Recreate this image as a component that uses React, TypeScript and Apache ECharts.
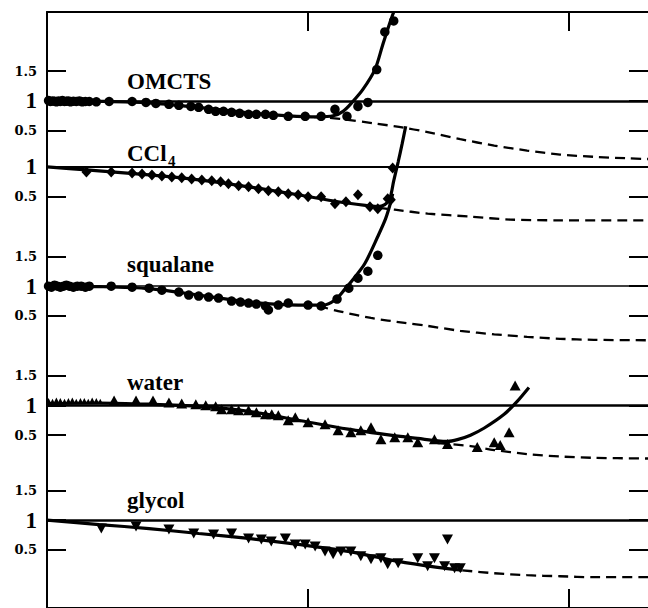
import React, { useEffect, useRef } from "react";
import * as echarts from "echarts";

// x axis: decades (log10) counted from the left frame edge
const X_MAX = 2.302;
const X_TICK_VALUES = [1, 2];

const PANEL_TITLES = ["OMCTS", "CCl", "squalane", "water", "glycol"];
const CCL4_SUBSCRIPT = "4";
const Y_TICK_VALUES = [
  [0.5, 1, 1.5],
  [0.5, 1],
  [0.5, 1, 1.5],
  [0.5, 1, 1.5],
  [0.5, 1, 1.5],
];

// ---- OMCTS ----
const omctsPtsX = [0.006, 0.013, 0.021, 0.029, 0.036, 0.044, 0.051, 0.059, 0.067, 0.074, 0.082, 0.09, 0.101, 0.112, 0.124, 0.135, 0.147, 0.162, 0.189, 0.238, 0.326, 0.379, 0.417, 0.467, 0.505, 0.551, 0.581, 0.619, 0.646, 0.676, 0.707, 0.738, 0.772, 0.802, 0.837, 0.867, 0.924, 0.989, 1.05, 1.103, 1.149, 1.191, 1.229, 1.263, 1.294, 1.328];
const omctsPtsY = [1.005, 0.99, 1.0, 0.995, 0.985, 1.0, 0.99, 1.005, 0.99, 0.995, 1.0, 0.985, 0.995, 0.99, 1.0, 0.985, 0.99, 0.99, 0.985, 0.99, 0.99, 0.975, 0.958, 0.942, 0.925, 0.908, 0.892, 0.858, 0.825, 0.825, 0.808, 0.792, 0.775, 0.775, 0.775, 0.758, 0.742, 0.742, 0.742, 0.858, 0.742, 0.908, 0.975, 1.525, 2.158, 2.342];
const omctsFitX = [0, 0.2, 0.391, 0.581, 0.772, 0.924, 1.039, 1.096, 1.134, 1.172, 1.21, 1.256, 1.286, 1.313, 1.328];
const omctsFitY = [1.0, 0.992, 0.967, 0.892, 0.8, 0.75, 0.733, 0.75, 0.825, 0.992, 1.192, 1.525, 1.942, 2.308, 2.492];
const omctsModelX = [0.962, 1.077, 1.153, 1.248, 1.37, 1.458, 1.583, 1.713, 1.839, 1.965, 2.094, 2.22, 2.302];
const omctsModelY = [0.737, 0.717, 0.683, 0.625, 0.55, 0.475, 0.358, 0.25, 0.167, 0.1, 0.062, 0.038, 0.025];

// ---- CCl4 ----
const cclPtsX = [0.151, 0.246, 0.326, 0.364, 0.402, 0.44, 0.478, 0.516, 0.554, 0.593, 0.631, 0.665, 0.695, 0.734, 0.772, 0.81, 0.848, 0.886, 0.924, 0.962, 1.0, 1.05, 1.103, 1.145, 1.191, 1.237, 1.267, 1.305, 1.317, 1.324];
const cclPtsY = [0.917, 0.917, 0.9, 0.883, 0.867, 0.85, 0.833, 0.817, 0.8, 0.783, 0.767, 0.75, 0.717, 0.683, 0.667, 0.633, 0.6, 0.583, 0.55, 0.533, 0.5, 0.5, 0.383, 0.417, 0.533, 0.333, 0.3, 0.467, 0.45, 0.983];
const cclFitX = [0, 0.151, 0.391, 0.581, 0.772, 0.962, 1.115, 1.229, 1.267, 1.294, 1.313, 1.328, 1.345, 1.36, 1.374];
const cclFitY = [1.0, 0.95, 0.867, 0.783, 0.667, 0.533, 0.417, 0.35, 0.333, 0.367, 0.467, 0.767, 1.083, 1.383, 1.683];
const cclModelX = [1.267, 1.332, 1.458, 1.622, 1.774, 1.965, 2.302];
const cclModelY = [0.317, 0.283, 0.217, 0.167, 0.117, 0.105, 0.105];

// ---- squalane ----
const squPtsX = [0.006, 0.017, 0.029, 0.04, 0.051, 0.063, 0.074, 0.086, 0.101, 0.116, 0.131, 0.147, 0.162, 0.246, 0.326, 0.391, 0.44, 0.505, 0.543, 0.581, 0.619, 0.657, 0.707, 0.741, 0.772, 0.802, 0.837, 0.848, 0.886, 0.924, 1.0, 1.05, 1.111, 1.156, 1.191, 1.229, 1.267];
const squPtsY = [1.0, 0.983, 1.017, 1.0, 0.983, 1.0, 1.017, 1.0, 0.983, 1.0, 1.0, 0.983, 1.0, 1.0, 0.983, 0.967, 0.933, 0.9, 0.85, 0.833, 0.817, 0.8, 0.75, 0.733, 0.717, 0.7, 0.667, 0.6, 0.683, 0.717, 0.683, 0.667, 0.783, 0.967, 1.133, 1.25, 1.517];
const squFitX = [0, 0.2, 0.391, 0.581, 0.772, 0.962, 1.058, 1.103, 1.141, 1.179, 1.218, 1.267, 1.297, 1.317, 1.324];
const squFitY = [1.0, 0.992, 0.958, 0.85, 0.733, 0.683, 0.683, 0.767, 0.95, 1.15, 1.383, 1.833, 2.133, 2.417, 2.55];
const squModelX = [1.039, 1.115, 1.241, 1.37, 1.458, 1.583, 1.713, 1.839, 1.965, 2.094, 2.302];
const squModelY = [0.667, 0.583, 0.467, 0.383, 0.333, 0.25, 0.192, 0.15, 0.117, 0.1, 0.092];

// ---- water ----
const waterEarlyX = [0.006, 0.021, 0.036, 0.051, 0.067, 0.082, 0.097, 0.112, 0.128, 0.143, 0.158, 0.173, 0.189, 0.204];
const waterEarlyY = [1.08, 1.07, 1.09, 1.08, 1.07, 1.08, 1.09, 1.07, 1.08, 1.08, 1.07, 1.09, 1.08, 1.07];
const waterPtsX = [0.257, 0.341, 0.406, 0.467, 0.516, 0.57, 0.608, 0.646, 0.669, 0.707, 0.734, 0.772, 0.802, 0.837, 0.861, 0.886, 0.924, 0.951, 1.0, 1.065, 1.115, 1.164, 1.202, 1.241, 1.279, 1.332, 1.382, 1.42, 1.484, 1.534, 1.648, 1.713, 1.736, 1.77, 1.793];
const waterPtsY = [1.083, 1.083, 1.083, 1.05, 1.033, 1.017, 1.0, 0.983, 0.933, 0.933, 0.917, 0.917, 0.883, 0.85, 0.85, 0.833, 0.75, 0.8, 0.717, 0.683, 0.583, 0.55, 0.583, 0.633, 0.433, 0.467, 0.467, 0.383, 0.433, 0.35, 0.3, 0.383, 0.333, 0.55, 1.333];
const waterFitX = [0, 0.2, 0.391, 0.581, 0.772, 0.962, 1.153, 1.345, 1.42, 1.496, 1.534, 1.572, 1.622, 1.675, 1.751, 1.801, 1.846];
const waterFitY = [1.03, 1.04, 1.02, 0.983, 0.9, 0.75, 0.6, 0.483, 0.445, 0.405, 0.395, 0.425, 0.5, 0.62, 0.85, 1.067, 1.3];
const waterModelX = [1.496, 1.622, 1.713, 1.839, 1.965, 2.094, 2.302];
const waterModelY = [0.367, 0.317, 0.25, 0.183, 0.142, 0.12, 0.108];

// ---- glycol ----
const glyPtsX = [0.208, 0.341, 0.467, 0.562, 0.638, 0.707, 0.772, 0.821, 0.859, 0.913, 0.951, 0.989, 1.027, 1.065, 1.096, 1.126, 1.164, 1.202, 1.241, 1.279, 1.305, 1.345, 1.42, 1.458, 1.484, 1.523, 1.534, 1.561, 1.583];
const glyPtsY = [0.858, 0.892, 0.842, 0.775, 0.758, 0.775, 0.692, 0.675, 0.642, 0.692, 0.592, 0.592, 0.558, 0.475, 0.425, 0.475, 0.475, 0.392, 0.342, 0.358, 0.258, 0.275, 0.358, 0.225, 0.358, 0.225, 0.675, 0.192, 0.192];
const glyFitX = [0, 0.2, 0.391, 0.581, 0.772, 0.962, 1.153, 1.345, 1.496, 1.591];
const glyFitY = [1.0, 0.925, 0.858, 0.775, 0.692, 0.592, 0.475, 0.308, 0.208, 0.158];
const glyModelX = [1.591, 1.713, 1.839, 1.965, 2.094, 2.302];
const glyModelY = [0.158, 0.108, 0.075, 0.058, 0.042, 0.042];

// ---- layout (not data) ----
const GRID_LEFT = 47;
const GRID_TOP = 12;
const GRID_W = 604;
const GRID_H = 600;
const PX_PER_UNIT = 60;
const PANEL_ONE_PX = [101.5, 168, 288, 408, 523.5];
const REF_LINE_W = [2.5, 2, 1.5, 2.5, 2.5];
const TITLE_Y = [81.5, 153, 264.5, 382, 500];

const zip = (xs: number[], ys: number[]) => xs.map((x, i) => [x, ys[i]]);

const panels = [
  { pts: zip(omctsPtsX, omctsPtsY), fit: zip(omctsFitX, omctsFitY), model: zip(omctsModelX, omctsModelY), symbol: "circle", size: 9.5, rotate: 0 },
  { pts: zip(cclPtsX, cclPtsY), fit: zip(cclFitX, cclFitY), model: zip(cclModelX, cclModelY), symbol: "diamond", size: [10, 11], rotate: 0 },
  { pts: zip(squPtsX, squPtsY), fit: zip(squFitX, squFitY), model: zip(squModelX, squModelY), symbol: "circle", size: 9.5, rotate: 0 },
  { pts: zip(waterPtsX, waterPtsY), fit: zip(waterFitX, waterFitY), model: zip(waterModelX, waterModelY), symbol: "triangle", size: [11, 10], rotate: 0 },
  { pts: zip(glyPtsX, glyPtsY), fit: zip(glyFitX, glyFitY), model: zip(glyModelX, glyModelY), symbol: "triangle", size: [11, 10], rotate: 180 },
];

const BLACK = "#000";

function buildOption() {
  const xAxisBase = {
    type: "value",
    gridIndex: 0,
    min: 0,
    max: X_MAX,
    axisLine: { show: true, onZero: false, lineStyle: { color: BLACK, width: 2 } },
    axisTick: { show: true, inside: true, length: 19, customValues: X_TICK_VALUES, lineStyle: { color: BLACK, width: 2 } },
    axisLabel: { show: false },
    splitLine: { show: false },
  };
  const xAxis = [
    { ...xAxisBase, position: "bottom" },
    { ...xAxisBase, position: "top" },
  ];

  const yAxis: any[] = [];
  PANEL_ONE_PX.forEach((p, i) => {
    const max = 1 + (p - GRID_TOP) / PX_PER_UNIT;
    const min = 1 - (GRID_TOP + GRID_H - p) / PX_PER_UNIT;
    yAxis.push({
      type: "value",
      gridIndex: 0,
      position: "left",
      min,
      max,
      axisLine: { show: i === 0, onZero: false, lineStyle: { color: BLACK, width: 2 } },
      axisTick: { show: true, inside: true, length: 19, customValues: Y_TICK_VALUES[i], lineStyle: { color: BLACK, width: 2 } },
      axisLabel: {
        show: true,
        customValues: Y_TICK_VALUES[i],
        margin: 10,
        formatter: (v: number) => (v === 1 ? "{b|1}" : "{s|" + v + "}"),
        rich: {
          b: { fontFamily: "Liberation Serif", fontWeight: "bold", fontSize: 23, color: BLACK },
          s: { fontFamily: "DejaVu Serif", fontWeight: "bold", fontSize: 13, color: BLACK },
        },
      },
      splitLine: { show: false },
    });
  });
  PANEL_ONE_PX.forEach((p, i) => {
    const max = 1 + (p - GRID_TOP) / PX_PER_UNIT;
    const min = 1 - (GRID_TOP + GRID_H - p) / PX_PER_UNIT;
    yAxis.push({
      type: "value",
      gridIndex: 0,
      position: "right",
      min,
      max,
      axisLine: { show: false, onZero: false },
      axisTick: { show: true, inside: true, length: 19, customValues: Y_TICK_VALUES[i], lineStyle: { color: BLACK, width: 2 } },
      axisLabel: { show: false },
      splitLine: { show: false },
    });
  });

  const series: any[] = [];
  panels.forEach((pn, i) => {
    series.push({
      type: "line",
      name: PANEL_TITLES[i] + " model",
      xAxisIndex: 0,
      yAxisIndex: i,
      data: pn.model,
      symbol: "none",
      smooth: 0.3,
      lineStyle: { color: BLACK, width: 2.3, type: [10, 6] },
      z: 2,
    });
    series.push({
      type: "line",
      name: PANEL_TITLES[i] + " fit",
      xAxisIndex: 0,
      yAxisIndex: i,
      data: pn.fit,
      symbol: "none",
      smooth: 0.3,
      lineStyle: { color: BLACK, width: 3.2 },
      z: 3,
      markLine: {
        silent: true,
        symbol: "none",
        label: { show: false },
        lineStyle: { color: BLACK, width: REF_LINE_W[i], type: "solid" },
        data: [{ yAxis: 1 }],
      },
    });
    series.push({
      type: "scatter",
      name: PANEL_TITLES[i],
      xAxisIndex: 0,
      yAxisIndex: i,
      data: pn.pts,
      symbol: pn.symbol,
      symbolSize: pn.size,
      symbolRotate: pn.rotate,
      itemStyle: { color: BLACK, opacity: 1 },
      z: 4,
    });
  });
  series.push({
    type: "scatter",
    name: "water early",
    xAxisIndex: 0,
    yAxisIndex: 3,
    data: zip(waterEarlyX, waterEarlyY),
    symbol: "triangle",
    symbolSize: 5,
    itemStyle: { color: BLACK, opacity: 1 },
    z: 4,
  });

  const titleFont = { fontFamily: "Liberation Serif", fontWeight: "bold", fontSize: 23, fill: BLACK };
  const graphic: any[] = PANEL_TITLES.map((t, i) => ({
    type: "text",
    x: 127,
    y: TITLE_Y[i],
    style: { text: t, ...titleFont, align: "left", verticalAlign: "middle" },
    z: 10,
  }));
  graphic.push({
    type: "text",
    x: 168,
    y: 161,
    style: { text: CCL4_SUBSCRIPT, fontFamily: "Liberation Serif", fontWeight: "bold", fontSize: 15, fill: BLACK, align: "left", verticalAlign: "middle" },
    z: 10,
  });

  return {
    animation: false,
    backgroundColor: "#fff",
    grid: [{ left: GRID_LEFT, top: GRID_TOP, width: GRID_W, height: GRID_H, containLabel: false }],
    xAxis,
    yAxis,
    series,
    graphic,
  };
}

export default function App() {
  const ref = useRef<HTMLDivElement>(null);
  useEffect(() => {
    document.body.style.margin = "0";
    if (!ref.current) return;
    const chart = echarts.init(ref.current, undefined, { renderer: "svg" });
    chart.setOption(buildOption() as any);
    return () => chart.dispose();
  }, []);
  return <div ref={ref} style={{ width: 648, height: 608, overflow: "hidden", background: "#fff" }} />;
}
